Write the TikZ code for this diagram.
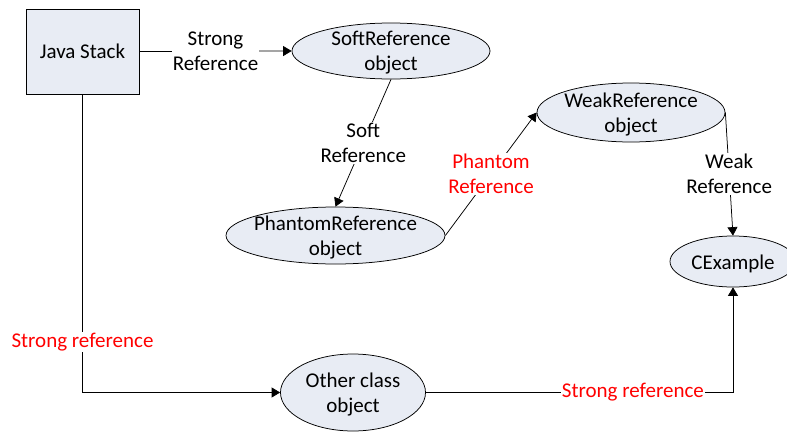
\documentclass[tikz,border=0pt]{standalone}
\usepackage{fontspec}
\setmainfont{Carlito}
\usetikzlibrary{arrows.meta,shapes.geometric}
\definecolor{objfill}{RGB}{232,236,244}
\definecolor{refred}{RGB}{255,0,0}
\tikzset{
  base/.style={font=\fontsize{21}{25}\selectfont},
  stackbox/.style={draw=black, fill=objfill, line width=0.75pt, minimum width=113pt, minimum height=85pt, inner sep=0pt, base},
  obj/.style={ellipse, draw=black, fill=objfill, line width=0.75pt, inner sep=0pt},
  objtext/.style={base, align=center, inner sep=0pt, yshift=-2pt},
  conn/.style={line width=0.75pt, draw=black},
  arr/.style={conn, -{Triangle[length=8.5pt,width=10pt]}},
  lbl/.style={base, align=center, fill=white, inner sep=1pt},
  redlbl/.style={lbl, text=refred},
}
\begin{document}
\begin{tikzpicture}[x=1pt, y=-1pt]
\useasboundingbox (0,0) rectangle (787,431);

% objects
\node[stackbox] (stack) at (82.5,51.5) {Java Stack};
\node[obj, minimum width=198pt, minimum height=56pt,
      label={[objtext]center:SoftReference\\object}] (soft) at (391,51) {};
\node[obj, minimum width=219pt, minimum height=57pt,
      label={[objtext]center:PhantomReference\\object}] (phantom) at (335.5,235.5) {};
\node[obj, minimum width=188pt, minimum height=59pt,
      label={[objtext]center:WeakReference\\object}] (weak) at (631,112.5) {};
\node[obj, minimum width=126pt, minimum height=51pt,
      label={[objtext]center:CExample}] (cex) at (733,261.5) {};
\node[obj, minimum width=145pt, minimum height=77pt,
      label={[objtext]center:Other class\\object}] (other) at (353,392.5) {};

% references
\draw[arr] (stack.east) -- node[lbl] {Strong\\Reference} (soft.west);
\draw[arr] (soft.south) -- node[lbl] {Soft\\Reference} (phantom.north);
\draw[arr] (phantom.east) -- node[redlbl] {Phantom\\Reference} (weak.west);
\draw[arr] (weak.east) -- node[lbl] {Weak\\Reference} (cex.north);
\draw[arr] (stack.south) -- node[redlbl, pos=0.83] {Strong reference}
      (stack.south |- other.west) -- (other.west);
\draw[arr] (other.east) -- node[redlbl, pos=0.674] {Strong reference}
      (other.east -| cex.south) -- (cex.south);
\end{tikzpicture}
\end{document}
